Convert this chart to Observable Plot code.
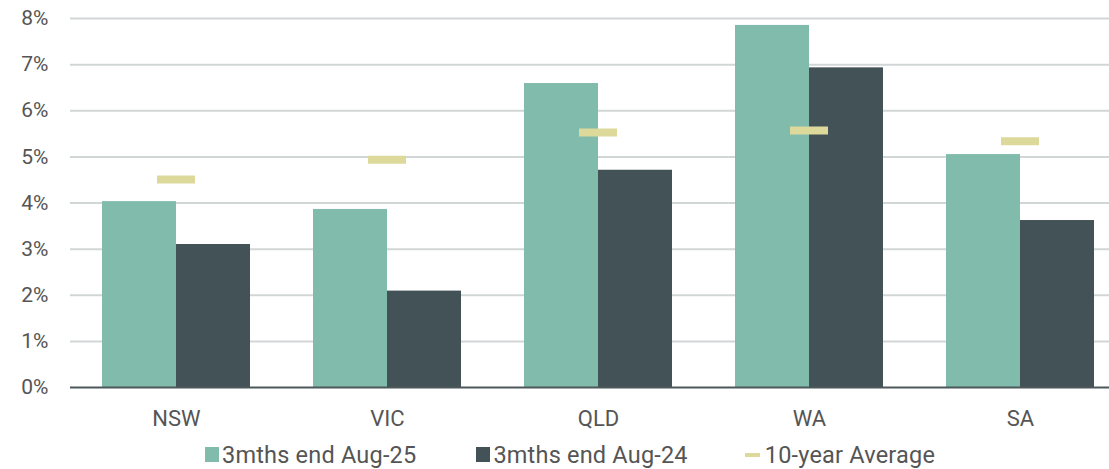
<!DOCTYPE html>
<html><head><meta charset="utf-8">
<script src="https://cdn.jsdelivr.net/npm/d3@7"></script>
<script src="https://cdn.jsdelivr.net/npm/@observablehq/plot@0.6"></script>
<style>
body{margin:0;background:#fff;font-family:Roboto,sans-serif;}
#chart svg{display:block}
#legend{display:flex;align-items:center;height:29px;padding-left:205px;font-size:23.5px;color:#555;font-family:Roboto,sans-serif;white-space:nowrap;letter-spacing:0.2px}
.item{display:flex;align-items:center}
.sw{width:14px;height:15px;margin-right:3px}
.ln{width:15px;height:4px;margin-right:5px}
</style></head><body><div id="chart"></div><div id="legend"></div>
<script>
const states = ["NSW","VIC","QLD","WA","SA"];
const aug25 = [4.03,3.86,6.59,7.85,5.05];
const aug24 = [3.10,2.09,4.71,6.93,3.62];
const avg10 = [4.51,4.94,5.53,5.57,5.34];
const yTicks = [0,1,2,3,4,5,6,7,8];
const seriesNames = ["3mths end Aug-25","3mths end Aug-24","10-year Average"];
const colors = ["#80bbac","#435256","#dcd99b"];

const data = states.map((s,i)=>({state:s,aug25:aug25[i],aug24:aug24[i],avg:avg10[i]}));

const chart = Plot.plot({
  width:1109, height:440,
  marginLeft:70, marginRight:0, marginTop:18, marginBottom:53,
  x:{domain:states, paddingInner:0.30, paddingOuter:0.106, align:0.68, label:null},
  y:{domain:[0,8], label:null},
  style:{fontFamily:"Roboto, sans-serif", fontSize:"21px", color:"#555", background:"#fff"},
  marks:[
    Plot.ruleY(yTicks.filter(d=>d>0), {stroke:"#d1d6d7", strokeWidth:2}),
    Plot.barY(data, {x:"state", y:"aug25", fill:colors[0], insetRight:74}),
    Plot.barY(data, {x:"state", y:"aug24", fill:colors[1], insetLeft:74}),
    Plot.tickY(data, {x:"state", y:"avg", stroke:colors[2], strokeWidth:8, insetLeft:55, insetRight:55}),
    Plot.ruleY([0], {stroke:"#4d585b", strokeWidth:2}),
    Plot.axisY({ticks:yTicks, tickSize:0, tickPadding:22, tickFormat:d=>d+"%", fontSize:21, label:null}),
    Plot.axisX({tickSize:0, tickPadding:23, fontSize:22, label:null})
  ]
});
document.getElementById("chart").append(chart);

const legend = document.getElementById("legend");
const gaps = [60, 57, 0];
seriesNames.forEach((n,i)=>{
  const it = document.createElement("div"); it.className="item"; it.style.marginRight = gaps[i]+"px";
  const sw = document.createElement("div"); sw.className = i<2 ? "sw" : "ln"; sw.style.background = colors[i];
  const t = document.createElement("span"); t.textContent = n;
  it.append(sw,t); legend.append(it);
});
</script></body></html>
